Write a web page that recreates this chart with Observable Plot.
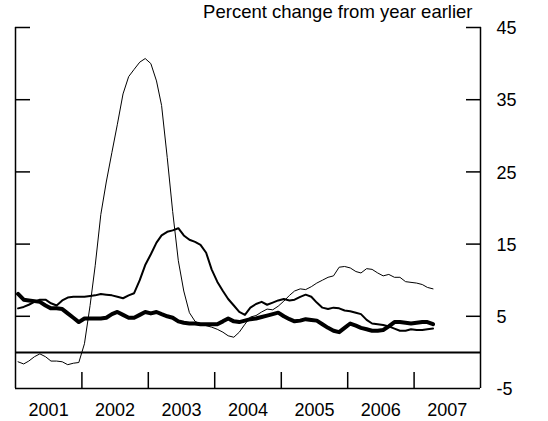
<!DOCTYPE html>
<html>
<head>
<meta charset="utf-8">
<script src="https://cdn.jsdelivr.net/npm/d3@7"></script>
<script src="https://cdn.jsdelivr.net/npm/@observablehq/plot@0.6"></script>
<style>
  html, body { margin: 0; padding: 0; background: #fff; }
</style>
</head>
<body>
<div id="chart"></div>
<script>
// Monthly observations, January 2001 – April 2007
const firstYear = 2001, firstMonth = 0;

// thin line
const seriesThin = [
  -1.3, -1.6, -1.2, -0.6, -0.2, -0.6, -1.2, -1.2, -1.3, -1.7, -1.5, -1.4,
  1.2, 6.5, 12.0, 19.1, 23.6, 27.7, 31.6, 35.8, 38.2, 39.2, 40.2, 40.7,
  40.0, 37.6, 34.2, 27.0, 19.5, 12.7, 8.5, 5.5, 4.3, 3.9, 3.7, 3.5,
  3.2, 2.8, 2.3, 2.1, 2.8, 3.9, 4.9, 5.1, 5.6, 6.0, 5.9, 6.4,
  7.1, 7.9, 8.5, 8.8, 8.7, 9.1, 9.6, 10.0, 10.4, 10.6, 11.8, 11.9,
  11.7, 11.2, 11.0, 11.6, 11.5, 11.0, 10.6, 10.8, 10.4, 10.4, 9.8, 9.7,
  9.6, 9.4, 9.0, 8.8
];
// medium line
const seriesMedium = [
  6.1, 6.3, 6.6, 7.0, 7.3, 7.3, 6.8, 6.5, 7.2, 7.6, 7.7, 7.7,
  7.7, 7.8, 7.9, 8.1, 8.0, 7.9, 7.7, 7.5, 7.9, 8.2, 10.0, 12.1,
  13.6, 15.2, 16.2, 16.7, 16.9, 17.2, 16.2, 15.6, 15.3, 14.9, 13.8, 11.5,
  9.8, 8.5, 7.4, 6.5, 5.6, 5.2, 6.2, 6.7, 7.0, 6.6, 6.9, 7.2,
  7.4, 7.2, 7.3, 7.7, 8.0, 7.7, 6.9, 6.2, 6.0, 6.2, 6.1, 5.8,
  5.7, 5.5, 5.3, 4.5, 4.0, 3.9, 3.8, 3.6, 3.3, 3.0, 3.0, 3.2,
  3.1, 3.1, 3.2, 3.3
];
// thick line
const seriesThick = [
  8.1, 7.3, 7.2, 7.1, 7.0, 6.5, 6.1, 6.1, 6.0, 5.4, 4.8, 4.2,
  4.7, 4.7, 4.7, 4.7, 4.8, 5.3, 5.6, 5.2, 4.8, 4.8, 5.2, 5.6,
  5.4, 5.6, 5.3, 5.0, 4.8, 4.3, 4.1, 4.0, 4.0, 3.9, 3.9, 3.9,
  3.9, 4.3, 4.7, 4.3, 4.2, 4.4, 4.6, 4.7, 4.9, 5.1, 5.3, 5.5,
  5.0, 4.6, 4.3, 4.4, 4.6, 4.5, 4.4, 3.9, 3.4, 3.0, 2.8, 3.4,
  4.0, 3.7, 3.4, 3.2, 3.0, 3.0, 3.1, 3.6, 4.2, 4.2, 4.1, 4.0,
  4.1, 4.2, 4.2, 3.9
];

const yearLabels = ["2001", "2002", "2003", "2004", "2005", "2006", "2007"];
const yTickValues = [-5, 5, 15, 25, 35, 45];
const titleText = "Percent change from year earlier";

// helpers (dates derived from the index)
const monthDate = i => new Date(Date.UTC(firstYear, firstMonth + i, 15));
const toRows = vals => vals.map((v, i) => ({date: monthDate(i), value: v}));
const years = yearLabels.map(Number);
const xStart = new Date(Date.UTC(years[0], 0, 1));
const xEnd = new Date(Date.UTC(years[years.length - 1] + 1, 0, 1));
const boundaries = years.slice(1).map(y => new Date(Date.UTC(y, 0, 1)));
const mids = years.map(y => new Date(Date.UTC(y, 6, 2)));
const innerTicks = yTickValues.filter(v => v > -5);

const chart = Plot.plot({
  width: 548,
  height: 421,
  marginLeft: 15,
  marginRight: 68,
  marginTop: 27,
  marginBottom: 33,
  style: {fontFamily: "Arial, 'Liberation Sans', Helvetica, sans-serif", fontSize: "18px", color: "black", background: "white"},
  x: {type: "utc", domain: [xStart, xEnd]},
  y: {domain: [-5, 45]},
  marks: [
    Plot.ruleX([xStart, xEnd], {y1: -5, y2: 45, stroke: "black", strokeWidth: 1.5}),
    Plot.ruleY([-5], {stroke: "black", strokeWidth: 1.5}),
    Plot.ruleY([0], {stroke: "black", strokeWidth: 2}),
    Plot.axisY({anchor: "left", ticks: innerTicks, tickSize: 15, dx: 15, fill: "none", label: null, strokeWidth: 1.5}),
    Plot.axisY({anchor: "right", ticks: innerTicks, tickSize: 15, dx: -15, fill: "none", label: null, strokeWidth: 1.5}),
    Plot.axisY({anchor: "right", ticks: yTickValues, tickSize: 0, tickPadding: 16, dy: 1, label: null, textAnchor: "start", tickFormat: d => String(d), fill: "black", fontSize: 18}),
    Plot.axisX({anchor: "bottom", ticks: boundaries, tickSize: 16, dy: -16, fill: "none", label: null, strokeWidth: 1.5}),
    Plot.axisX({anchor: "bottom", ticks: mids, tickSize: 0, tickPadding: 15, label: null, tickFormat: d => yearLabels[years.indexOf(d.getUTCFullYear())], fill: "black", fontSize: 18}),
    Plot.line(toRows(seriesThin), {x: "date", y: "value", stroke: "black", strokeWidth: 1, strokeLinejoin: "round"}),
    Plot.line(toRows(seriesMedium), {x: "date", y: "value", stroke: "black", strokeWidth: 2, strokeLinejoin: "round"}),
    Plot.line(toRows(seriesThick), {x: "date", y: "value", stroke: "black", strokeWidth: 4, strokeLinejoin: "round"}),
    Plot.text([titleText], {text: d => d, frameAnchor: "top-right", textAnchor: "end", lineAnchor: "middle", dx: -8, dy: -15, fontSize: 18.5, fill: "black"})
  ]
});
document.getElementById("chart").appendChild(chart);
</script>
</body>
</html>
